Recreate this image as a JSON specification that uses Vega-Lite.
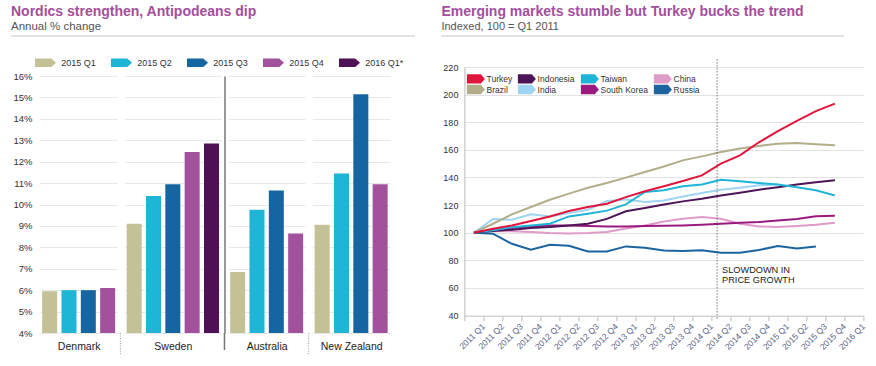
{
  "$schema": "https://vega.github.io/schema/vega-lite/v6.json",
  "padding": {"left": 10, "top": 4, "right": 4, "bottom": 4},
  "config": {
    "font": "Liberation Sans",
    "view": {"stroke": null},
    "axis": {"labelFont": "Liberation Sans", "titleFont": "Liberation Sans"},
    "legend": {"labelFont": "Liberation Sans"},
    "title": {"font": "Liberation Sans", "subtitleFont": "Liberation Sans"}
  },
  "datasets": {
    "bars": [
      {"country": "Denmark", "quarter": "2015 Q1", "value": 5.95},
      {"country": "Denmark", "quarter": "2015 Q2", "value": 6.0},
      {"country": "Denmark", "quarter": "2015 Q3", "value": 6.0},
      {"country": "Denmark", "quarter": "2015 Q4", "value": 6.1},
      {"country": "Sweden", "quarter": "2015 Q1", "value": 9.1},
      {"country": "Sweden", "quarter": "2015 Q2", "value": 10.4},
      {"country": "Sweden", "quarter": "2015 Q3", "value": 10.95},
      {"country": "Sweden", "quarter": "2015 Q4", "value": 12.45},
      {"country": "Sweden", "quarter": "2016 Q1*", "value": 12.85},
      {"country": "Australia", "quarter": "2015 Q1", "value": 6.85},
      {"country": "Australia", "quarter": "2015 Q2", "value": 9.75},
      {"country": "Australia", "quarter": "2015 Q3", "value": 10.65},
      {"country": "Australia", "quarter": "2015 Q4", "value": 8.65},
      {"country": "New Zealand", "quarter": "2015 Q1", "value": 9.05},
      {"country": "New Zealand", "quarter": "2015 Q2", "value": 11.45},
      {"country": "New Zealand", "quarter": "2015 Q3", "value": 15.15},
      {"country": "New Zealand", "quarter": "2015 Q4", "value": 10.95}
    ],
    "lines": [
      {"country": "India", "quarter": "2011 Q1", "value": 100},
      {"country": "India", "quarter": "2011 Q2", "value": 110},
      {"country": "India", "quarter": "2011 Q3", "value": 109.4},
      {"country": "India", "quarter": "2011 Q4", "value": 113.3},
      {"country": "India", "quarter": "2012 Q1", "value": 111.8},
      {"country": "India", "quarter": "2012 Q2", "value": 114.2},
      {"country": "India", "quarter": "2012 Q3", "value": 116.7},
      {"country": "India", "quarter": "2012 Q4", "value": 123},
      {"country": "India", "quarter": "2013 Q1", "value": 124},
      {"country": "India", "quarter": "2013 Q2", "value": 122.2},
      {"country": "India", "quarter": "2013 Q3", "value": 123.4},
      {"country": "India", "quarter": "2013 Q4", "value": 126.3},
      {"country": "India", "quarter": "2014 Q1", "value": 128.7},
      {"country": "India", "quarter": "2014 Q2", "value": 131.2},
      {"country": "India", "quarter": "2014 Q3", "value": 132.6},
      {"country": "India", "quarter": "2014 Q4", "value": 134.3},
      {"country": "India", "quarter": "2015 Q1", "value": 135},
      {"country": "China", "quarter": "2011 Q1", "value": 100},
      {"country": "China", "quarter": "2011 Q2", "value": 101.2},
      {"country": "China", "quarter": "2011 Q3", "value": 101},
      {"country": "China", "quarter": "2011 Q4", "value": 100.5},
      {"country": "China", "quarter": "2012 Q1", "value": 99.8},
      {"country": "China", "quarter": "2012 Q2", "value": 99.5},
      {"country": "China", "quarter": "2012 Q3", "value": 99.8},
      {"country": "China", "quarter": "2012 Q4", "value": 100.5},
      {"country": "China", "quarter": "2013 Q1", "value": 103},
      {"country": "China", "quarter": "2013 Q2", "value": 105.3},
      {"country": "China", "quarter": "2013 Q3", "value": 108.2},
      {"country": "China", "quarter": "2013 Q4", "value": 110.1},
      {"country": "China", "quarter": "2014 Q1", "value": 111.4},
      {"country": "China", "quarter": "2014 Q2", "value": 110.1},
      {"country": "China", "quarter": "2014 Q3", "value": 106.5},
      {"country": "China", "quarter": "2014 Q4", "value": 104.6},
      {"country": "China", "quarter": "2015 Q1", "value": 104.1},
      {"country": "China", "quarter": "2015 Q2", "value": 104.8},
      {"country": "China", "quarter": "2015 Q3", "value": 105.8},
      {"country": "China", "quarter": "2015 Q4", "value": 107.2},
      {"country": "Brazil", "quarter": "2011 Q1", "value": 100},
      {"country": "Brazil", "quarter": "2011 Q2", "value": 106.5},
      {"country": "Brazil", "quarter": "2011 Q3", "value": 113.3},
      {"country": "Brazil", "quarter": "2011 Q4", "value": 118.6},
      {"country": "Brazil", "quarter": "2012 Q1", "value": 123.9},
      {"country": "Brazil", "quarter": "2012 Q2", "value": 128.3},
      {"country": "Brazil", "quarter": "2012 Q3", "value": 132.6},
      {"country": "Brazil", "quarter": "2012 Q4", "value": 136},
      {"country": "Brazil", "quarter": "2013 Q1", "value": 139.9},
      {"country": "Brazil", "quarter": "2013 Q2", "value": 144},
      {"country": "Brazil", "quarter": "2013 Q3", "value": 148},
      {"country": "Brazil", "quarter": "2013 Q4", "value": 152.4},
      {"country": "Brazil", "quarter": "2014 Q1", "value": 155.3},
      {"country": "Brazil", "quarter": "2014 Q2", "value": 158.5},
      {"country": "Brazil", "quarter": "2014 Q3", "value": 161},
      {"country": "Brazil", "quarter": "2014 Q4", "value": 162.8},
      {"country": "Brazil", "quarter": "2015 Q1", "value": 164.5},
      {"country": "Brazil", "quarter": "2015 Q2", "value": 165},
      {"country": "Brazil", "quarter": "2015 Q3", "value": 164},
      {"country": "Brazil", "quarter": "2015 Q4", "value": 163.3},
      {"country": "South Korea", "quarter": "2011 Q1", "value": 100},
      {"country": "South Korea", "quarter": "2011 Q2", "value": 102.2},
      {"country": "South Korea", "quarter": "2011 Q3", "value": 103.4},
      {"country": "South Korea", "quarter": "2011 Q4", "value": 104.6},
      {"country": "South Korea", "quarter": "2012 Q1", "value": 105.3},
      {"country": "South Korea", "quarter": "2012 Q2", "value": 105.3},
      {"country": "South Korea", "quarter": "2012 Q3", "value": 104.8},
      {"country": "South Korea", "quarter": "2012 Q4", "value": 104.6},
      {"country": "South Korea", "quarter": "2013 Q1", "value": 104.6},
      {"country": "South Korea", "quarter": "2013 Q2", "value": 104.8},
      {"country": "South Korea", "quarter": "2013 Q3", "value": 105},
      {"country": "South Korea", "quarter": "2013 Q4", "value": 105.3},
      {"country": "South Korea", "quarter": "2014 Q1", "value": 105.8},
      {"country": "South Korea", "quarter": "2014 Q2", "value": 106.5},
      {"country": "South Korea", "quarter": "2014 Q3", "value": 107.2},
      {"country": "South Korea", "quarter": "2014 Q4", "value": 107.7},
      {"country": "South Korea", "quarter": "2015 Q1", "value": 108.9},
      {"country": "South Korea", "quarter": "2015 Q2", "value": 110},
      {"country": "South Korea", "quarter": "2015 Q3", "value": 112},
      {"country": "South Korea", "quarter": "2015 Q4", "value": 112.3},
      {"country": "Indonesia", "quarter": "2011 Q1", "value": 100},
      {"country": "Indonesia", "quarter": "2011 Q2", "value": 101.2},
      {"country": "Indonesia", "quarter": "2011 Q3", "value": 102.2},
      {"country": "Indonesia", "quarter": "2011 Q4", "value": 103.4},
      {"country": "Indonesia", "quarter": "2012 Q1", "value": 104.1},
      {"country": "Indonesia", "quarter": "2012 Q2", "value": 105.3},
      {"country": "Indonesia", "quarter": "2012 Q3", "value": 106.5},
      {"country": "Indonesia", "quarter": "2012 Q4", "value": 110},
      {"country": "Indonesia", "quarter": "2013 Q1", "value": 115.5},
      {"country": "Indonesia", "quarter": "2013 Q2", "value": 117.9},
      {"country": "Indonesia", "quarter": "2013 Q3", "value": 120.5},
      {"country": "Indonesia", "quarter": "2013 Q4", "value": 122.7},
      {"country": "Indonesia", "quarter": "2014 Q1", "value": 124.6},
      {"country": "Indonesia", "quarter": "2014 Q2", "value": 127},
      {"country": "Indonesia", "quarter": "2014 Q3", "value": 129},
      {"country": "Indonesia", "quarter": "2014 Q4", "value": 131.2},
      {"country": "Indonesia", "quarter": "2015 Q1", "value": 133},
      {"country": "Indonesia", "quarter": "2015 Q2", "value": 135},
      {"country": "Indonesia", "quarter": "2015 Q3", "value": 136.5},
      {"country": "Indonesia", "quarter": "2015 Q4", "value": 138},
      {"country": "Taiwan", "quarter": "2011 Q1", "value": 100},
      {"country": "Taiwan", "quarter": "2011 Q2", "value": 101.7},
      {"country": "Taiwan", "quarter": "2011 Q3", "value": 104},
      {"country": "Taiwan", "quarter": "2011 Q4", "value": 105.3},
      {"country": "Taiwan", "quarter": "2012 Q1", "value": 106.5},
      {"country": "Taiwan", "quarter": "2012 Q2", "value": 111.8},
      {"country": "Taiwan", "quarter": "2012 Q3", "value": 113.8},
      {"country": "Taiwan", "quarter": "2012 Q4", "value": 116},
      {"country": "Taiwan", "quarter": "2013 Q1", "value": 120.5},
      {"country": "Taiwan", "quarter": "2013 Q2", "value": 129.5},
      {"country": "Taiwan", "quarter": "2013 Q3", "value": 130.7},
      {"country": "Taiwan", "quarter": "2013 Q4", "value": 133.6},
      {"country": "Taiwan", "quarter": "2014 Q1", "value": 135},
      {"country": "Taiwan", "quarter": "2014 Q2", "value": 138.4},
      {"country": "Taiwan", "quarter": "2014 Q3", "value": 137.2},
      {"country": "Taiwan", "quarter": "2014 Q4", "value": 136},
      {"country": "Taiwan", "quarter": "2015 Q1", "value": 135},
      {"country": "Taiwan", "quarter": "2015 Q2", "value": 133},
      {"country": "Taiwan", "quarter": "2015 Q3", "value": 130.7},
      {"country": "Taiwan", "quarter": "2015 Q4", "value": 127},
      {"country": "Russia", "quarter": "2011 Q1", "value": 100},
      {"country": "Russia", "quarter": "2011 Q2", "value": 99.3},
      {"country": "Russia", "quarter": "2011 Q3", "value": 92},
      {"country": "Russia", "quarter": "2011 Q4", "value": 87.7},
      {"country": "Russia", "quarter": "2012 Q1", "value": 91.3},
      {"country": "Russia", "quarter": "2012 Q2", "value": 90.6},
      {"country": "Russia", "quarter": "2012 Q3", "value": 86.5},
      {"country": "Russia", "quarter": "2012 Q4", "value": 86.5},
      {"country": "Russia", "quarter": "2013 Q1", "value": 90.1},
      {"country": "Russia", "quarter": "2013 Q2", "value": 89.1},
      {"country": "Russia", "quarter": "2013 Q3", "value": 87.2},
      {"country": "Russia", "quarter": "2013 Q4", "value": 86.8},
      {"country": "Russia", "quarter": "2014 Q1", "value": 87.4},
      {"country": "Russia", "quarter": "2014 Q2", "value": 85.5},
      {"country": "Russia", "quarter": "2014 Q3", "value": 85.5},
      {"country": "Russia", "quarter": "2014 Q4", "value": 87.5},
      {"country": "Russia", "quarter": "2015 Q1", "value": 90.3},
      {"country": "Russia", "quarter": "2015 Q2", "value": 88.6},
      {"country": "Russia", "quarter": "2015 Q3", "value": 90},
      {"country": "Turkey", "quarter": "2011 Q1", "value": 100},
      {"country": "Turkey", "quarter": "2011 Q2", "value": 102.9},
      {"country": "Turkey", "quarter": "2011 Q3", "value": 105.3},
      {"country": "Turkey", "quarter": "2011 Q4", "value": 108.5},
      {"country": "Turkey", "quarter": "2012 Q1", "value": 111.8},
      {"country": "Turkey", "quarter": "2012 Q2", "value": 115.7},
      {"country": "Turkey", "quarter": "2012 Q3", "value": 118.6},
      {"country": "Turkey", "quarter": "2012 Q4", "value": 121},
      {"country": "Turkey", "quarter": "2013 Q1", "value": 125.8},
      {"country": "Turkey", "quarter": "2013 Q2", "value": 130},
      {"country": "Turkey", "quarter": "2013 Q3", "value": 133.6},
      {"country": "Turkey", "quarter": "2013 Q4", "value": 137.4},
      {"country": "Turkey", "quarter": "2014 Q1", "value": 141.5},
      {"country": "Turkey", "quarter": "2014 Q2", "value": 150},
      {"country": "Turkey", "quarter": "2014 Q3", "value": 156},
      {"country": "Turkey", "quarter": "2014 Q4", "value": 165.5},
      {"country": "Turkey", "quarter": "2015 Q1", "value": 173.5},
      {"country": "Turkey", "quarter": "2015 Q2", "value": 181},
      {"country": "Turkey", "quarter": "2015 Q3", "value": 188},
      {"country": "Turkey", "quarter": "2015 Q4", "value": 193.5}
    ]
  },
  "resolve": {"scale": {"color": "independent"}, "legend": {"color": "independent"}},
  "spacing": 24.4,
  "hconcat": [
    {
      "spacing": 20,
      "resolve": {"scale": {"color": "independent"}, "legend": {"color": "independent"}},
      "vconcat": [
        {
          "width": 404,
          "height": 1,
          "title": {"text": "Nordics strengthen, Antipodeans dip", "subtitle": "Annual % change", "anchor": "start", "frame": "group", "fontSize": 14, "fontWeight": "bold", "color": "#a24f9d", "subtitleFontSize": 11.5, "subtitleColor": "#555555", "subtitlePadding": 2, "offset": 3},
          "data": {"values": [{}]},
          "mark": {"type": "rule", "color": "#c8c8c8", "strokeWidth": 1},
          "encoding": {"y": {"datum": 0, "scale": {"domain": [0, 1]}, "axis": null}}
        },
        {
          "spacing": 0,
          "resolve": {"scale": {"color": "independent"}, "legend": {"color": "independent"}},
          "hconcat": [
            {
              "width": 1,
              "height": 1,
              "data": {"values": []},
              "mark": {"type": "point"},
              "encoding": {}
            },
            {
              "spacing": 1.5,
              "hconcat": [
                {
                  "width": {"step": 19.33},
                  "height": 257,
                  "data": {"name": "bars"},
                  "transform": [{"filter": "datum.country === 'Denmark'"}],
                  "mark": {"type": "bar"},
                  "encoding": {
                    "x": {"field": "quarter", "type": "nominal", "scale": {"paddingInner": 0.224, "paddingOuter": 0.112}, "axis": {"title": "Denmark", "labels": false, "ticks": false, "domain": false, "titleFontSize": 10.5, "titleFontWeight": "normal", "titleColor": "#222222", "titlePadding": 8}},
                    "y": {"field": "value", "type": "quantitative", "scale": {"domain": [4, 16], "nice": false, "zero": false}, "axis": {"title": null, "values": [4, 5, 6, 7, 8, 9, 10, 11, 12, 13, 14, 15, 16], "labelExpr": "datum.value + '%'", "labelFontSize": 9.5, "labelColor": "#333333", "labelOverlap": false, "ticks": false, "domain": false, "gridColor": "#e8e8e8", "labelPadding": 8, "minExtent": 27.5}},
                    "y2": {"datum": 4},
                    "color": {"field": "quarter", "type": "nominal", "scale": {"domain": ["2015 Q1", "2015 Q2", "2015 Q3", "2015 Q4", "2016 Q1*"], "range": ["#c4c197", "#1fb5d6", "#1565a0", "#a2529c", "#4f1156"]}, "legend": {"title": null, "orient": "top", "direction": "horizontal", "symbolType": "M-2,-0.79L1.1,-0.79L2,0L1.1,0.79L-2,0.79Z", "symbolSize": 110.25, "symbolStrokeWidth": 0, "labelFontSize": 9, "labelColor": "#333333", "labelOffset": 10.25, "columnPadding": 15, "offset": 3}}
                  }
                },
                {
                  "width": {"step": 19.33},
                  "height": 257,
                  "layer": [
                    {
                      "data": {"name": "bars"},
                      "transform": [{"filter": "datum.country === 'Sweden'"}],
                      "mark": {"type": "bar"},
                      "encoding": {
                        "x": {"field": "quarter", "type": "nominal", "scale": {"paddingInner": 0.224, "paddingOuter": 0.112}, "axis": {"title": "Sweden", "labels": false, "ticks": false, "domain": false, "titleFontSize": 10.5, "titleFontWeight": "normal", "titleColor": "#222222", "titlePadding": 8}},
                        "y": {"field": "value", "type": "quantitative", "scale": {"domain": [4, 16], "nice": false, "zero": false}, "axis": {"title": null, "values": [4, 5, 6, 7, 8, 9, 10, 11, 12, 13, 14, 15, 16], "labels": false, "ticks": false, "domain": false, "gridColor": "#e8e8e8", "minExtent": 0, "maxExtent": 0}},
                        "y2": {"datum": 4},
                        "color": {"field": "quarter", "type": "nominal", "scale": {"domain": ["2015 Q1", "2015 Q2", "2015 Q3", "2015 Q4", "2016 Q1*"], "range": ["#c4c197", "#1fb5d6", "#1565a0", "#a2529c", "#4f1156"]}, "legend": {"title": null, "orient": "top", "direction": "horizontal", "symbolType": "M-2,-0.79L1.1,-0.79L2,0L1.1,0.79L-2,0.79Z", "symbolSize": 110.25, "symbolStrokeWidth": 0, "labelFontSize": 9, "labelColor": "#333333", "labelOffset": 10.25, "columnPadding": 15, "offset": 3}}
                      }
                    },
                    {
                      "data": {"values": [{}]},
                      "mark": {"type": "rule", "color": "#999999", "strokeDash": [1, 1.5], "strokeWidth": 1},
                      "encoding": {
                        "x": {"datum": "2015 Q1", "type": "nominal", "bandPosition": -0.42, "axis": {"title": "Sweden", "labels": false, "ticks": false, "domain": false, "titleFontSize": 10.5, "titleFontWeight": "normal", "titleColor": "#222222", "titlePadding": 8}},
                        "y": {"datum": 4, "type": "quantitative", "axis": {"title": null, "values": [4, 5, 6, 7, 8, 9, 10, 11, 12, 13, 14, 15, 16], "labels": false, "ticks": false, "domain": false, "gridColor": "#e8e8e8", "minExtent": 0, "maxExtent": 0}},
                        "y2": {"datum": 2.97}
                      }
                    }
                  ]
                },
                {
                  "width": {"step": 19.33},
                  "height": 257,
                  "layer": [
                    {
                      "data": {"name": "bars"},
                      "transform": [{"filter": "datum.country === 'Australia'"}],
                      "mark": {"type": "bar"},
                      "encoding": {
                        "x": {"field": "quarter", "type": "nominal", "scale": {"paddingInner": 0.224, "paddingOuter": 0.112}, "axis": {"title": "Australia", "labels": false, "ticks": false, "domain": false, "titleFontSize": 10.5, "titleFontWeight": "normal", "titleColor": "#222222", "titlePadding": 8}},
                        "y": {"field": "value", "type": "quantitative", "scale": {"domain": [4, 16], "nice": false, "zero": false}, "axis": {"title": null, "values": [4, 5, 6, 7, 8, 9, 10, 11, 12, 13, 14, 15, 16], "labels": false, "ticks": false, "domain": true, "domainColor": "#777777", "domainWidth": 1.5, "offset": 3.5, "gridColor": "#e8e8e8", "minExtent": 0, "maxExtent": 0}},
                        "y2": {"datum": 4},
                        "color": {"field": "quarter", "type": "nominal", "scale": {"domain": ["2015 Q1", "2015 Q2", "2015 Q3", "2015 Q4", "2016 Q1*"], "range": ["#c4c197", "#1fb5d6", "#1565a0", "#a2529c", "#4f1156"]}, "legend": {"title": null, "orient": "top", "direction": "horizontal", "symbolType": "M-2,-0.79L1.1,-0.79L2,0L1.1,0.79L-2,0.79Z", "symbolSize": 110.25, "symbolStrokeWidth": 0, "labelFontSize": 9, "labelColor": "#333333", "labelOffset": 10.25, "columnPadding": 15, "offset": 3}}
                      }
                    },
                    {
                      "data": {"values": [{}]},
                      "mark": {"type": "rule", "color": "#777777", "strokeWidth": 1.5},
                      "encoding": {
                        "x": {"datum": "2015 Q1", "type": "nominal", "bandPosition": -0.38, "axis": {"title": "Australia", "labels": false, "ticks": false, "domain": false, "titleFontSize": 10.5, "titleFontWeight": "normal", "titleColor": "#222222", "titlePadding": 8}},
                        "y": {"datum": 4, "type": "quantitative", "axis": {"title": null, "values": [4, 5, 6, 7, 8, 9, 10, 11, 12, 13, 14, 15, 16], "labels": false, "ticks": false, "domain": true, "domainColor": "#777777", "domainWidth": 1.5, "offset": 3.5, "gridColor": "#e8e8e8", "minExtent": 0, "maxExtent": 0}},
                        "y2": {"datum": 3.2}
                      }
                    }
                  ]
                },
                {
                  "width": {"step": 19.33},
                  "height": 257,
                  "layer": [
                    {
                      "data": {"name": "bars"},
                      "transform": [{"filter": "datum.country === 'New Zealand'"}],
                      "mark": {"type": "bar"},
                      "encoding": {
                        "x": {"field": "quarter", "type": "nominal", "scale": {"paddingInner": 0.224, "paddingOuter": 0.112}, "axis": {"title": "New Zealand", "labels": false, "ticks": false, "domain": false, "titleFontSize": 10.5, "titleFontWeight": "normal", "titleColor": "#222222", "titlePadding": 8}},
                        "y": {"field": "value", "type": "quantitative", "scale": {"domain": [4, 16], "nice": false, "zero": false}, "axis": {"title": null, "values": [4, 5, 6, 7, 8, 9, 10, 11, 12, 13, 14, 15, 16], "labels": false, "ticks": false, "domain": false, "gridColor": "#e8e8e8", "minExtent": 0, "maxExtent": 0}},
                        "y2": {"datum": 4},
                        "color": {"field": "quarter", "type": "nominal", "scale": {"domain": ["2015 Q1", "2015 Q2", "2015 Q3", "2015 Q4", "2016 Q1*"], "range": ["#c4c197", "#1fb5d6", "#1565a0", "#a2529c", "#4f1156"]}, "legend": {"title": null, "orient": "top", "direction": "horizontal", "symbolType": "M-2,-0.79L1.1,-0.79L2,0L1.1,0.79L-2,0.79Z", "symbolSize": 110.25, "symbolStrokeWidth": 0, "labelFontSize": 9, "labelColor": "#333333", "labelOffset": 10.25, "columnPadding": 15, "offset": 3}}
                      }
                    },
                    {
                      "data": {"values": [{}]},
                      "mark": {"type": "rule", "color": "#999999", "strokeDash": [1, 1.5], "strokeWidth": 1},
                      "encoding": {
                        "x": {"datum": "2015 Q1", "type": "nominal", "bandPosition": -0.4, "axis": {"title": "New Zealand", "labels": false, "ticks": false, "domain": false, "titleFontSize": 10.5, "titleFontWeight": "normal", "titleColor": "#222222", "titlePadding": 8}},
                        "y": {"datum": 4, "type": "quantitative", "axis": {"title": null, "values": [4, 5, 6, 7, 8, 9, 10, 11, 12, 13, 14, 15, 16], "labels": false, "ticks": false, "domain": false, "gridColor": "#e8e8e8", "minExtent": 0, "maxExtent": 0}},
                        "y2": {"datum": 2.97}
                      }
                    }
                  ]
                }
              ]
            }
          ]
        }
      ]
    },
    {
      "spacing": 21,
      "resolve": {"scale": {"color": "independent"}, "legend": {"color": "independent"}},
      "vconcat": [
        {
          "width": 403,
          "height": 1,
          "title": {"text": "Emerging markets stumble but Turkey bucks the trend", "subtitle": "Indexed, 100 = Q1 2011", "anchor": "start", "frame": "group", "fontSize": 14, "fontWeight": "bold", "color": "#a24f9d", "subtitleFontSize": 11, "subtitleColor": "#555555", "subtitlePadding": 2, "offset": 3},
          "data": {"values": [{}]},
          "mark": {"type": "rule", "color": "#c8c8c8", "strokeWidth": 1},
          "encoding": {"y": {"datum": 0, "scale": {"domain": [0, 1]}, "axis": null}}
        },
        {
          "spacing": 0,
          "resolve": {"scale": {"color": "independent"}, "legend": {"color": "independent"}},
          "hconcat": [
            {
              "width": 1,
              "height": 1,
              "data": {"values": []},
              "mark": {"type": "point"},
              "encoding": {}
            },
            {
              "width": 399,
              "height": 248.6,
              "layer": [
                {
                  "data": {"name": "lines"},
                  "mark": {"type": "point", "filled": true, "size": 0, "opacity": 1},
                  "encoding": {
                    "x": {"field": "quarter", "type": "ordinal", "scale": {"type": "band", "domain": ["2011 Q1", "2011 Q2", "2011 Q3", "2011 Q4", "2012 Q1", "2012 Q2", "2012 Q3", "2012 Q4", "2013 Q1", "2013 Q2", "2013 Q3", "2013 Q4", "2014 Q1", "2014 Q2", "2014 Q3", "2014 Q4", "2015 Q1", "2015 Q2", "2015 Q3", "2015 Q4", "2016 Q1"], "paddingInner": 0, "paddingOuter": 0}, "axis": {"title": null, "tickBand": "extent", "labelAngle": -45, "labelAlign": "right", "labelBaseline": "middle", "labelOffset": 9, "labelFontSize": 8.5, "labelColor": "#5a6385", "labelPadding": 4, "tickColor": "#bbbbbb", "tickSize": 5, "domainColor": "#cccccc", "grid": false, "labelOverlap": false}},
                    "y": {"field": "value", "type": "quantitative", "scale": {"domain": [40, 220], "nice": false, "zero": false}, "axis": {"title": null, "values": [40, 60, 80, 100, 120, 140, 160, 180, 200, 220], "tickCount": 10, "labelOverlap": false, "labelFontSize": 9, "labelColor": "#333333", "ticks": false, "domain": true, "domainColor": "#bbbbbb", "gridColor": "#e2e2e2", "labelPadding": 6.5, "minExtent": 20.6}},
                    "color": {"field": "country", "type": "nominal", "scale": {"domain": ["Turkey", "Brazil", "Indonesia", "India", "Taiwan", "South Korea", "China", "Russia"], "range": ["#e2163d", "#b2ae8a", "#4e1458", "#9fd4f2", "#20b4d8", "#9b1a80", "#e09cc8", "#1b64a0"]}, "legend": {"title": null, "orient": "top-left", "columns": 4, "symbolType": "M-2,-1.05L1.1,-1.05L2,0L1.1,1.05L-2,1.05Z", "symbolSize": 81, "symbolStrokeWidth": 0, "labelFontSize": 8.5, "labelColor": "#333333", "labelOffset": 6.2, "columnPadding": 5, "rowPadding": 0, "offset": 7, "padding": 0}}
                  }
                },
                {
                  "data": {"name": "lines"},
                  "mark": {"type": "line", "strokeWidth": 2},
                  "encoding": {
                    "x": {"field": "quarter", "type": "ordinal", "axis": {"title": null, "tickBand": "extent", "labelAngle": -45, "labelAlign": "right", "labelBaseline": "middle", "labelOffset": 9, "labelFontSize": 8.5, "labelColor": "#5a6385", "labelPadding": 4, "tickColor": "#bbbbbb", "tickSize": 5, "domainColor": "#cccccc", "grid": false, "labelOverlap": false}},
                    "y": {"field": "value", "type": "quantitative", "axis": {"title": null, "values": [40, 60, 80, 100, 120, 140, 160, 180, 200, 220], "tickCount": 10, "labelOverlap": false, "labelFontSize": 9, "labelColor": "#333333", "ticks": false, "domain": true, "domainColor": "#bbbbbb", "gridColor": "#e2e2e2", "labelPadding": 6.5, "minExtent": 20.6}},
                    "color": {"field": "country", "type": "nominal", "legend": {"title": null, "orient": "top-left", "columns": 4, "symbolType": "M-2,-1.05L1.1,-1.05L2,0L1.1,1.05L-2,1.05Z", "symbolSize": 81, "symbolStrokeWidth": 0, "labelFontSize": 8.5, "labelColor": "#333333", "labelOffset": 6.2, "columnPadding": 5, "rowPadding": 0, "offset": 7, "padding": 0}}
                  }
                },
                {
                  "data": {"values": [{}]},
                  "mark": {"type": "rule", "color": "#333333", "strokeDash": [1, 2], "strokeWidth": 1},
                  "encoding": {
                    "x": {"datum": "2014 Q2", "bandPosition": 0.3, "type": "ordinal", "axis": {"title": null, "tickBand": "extent", "labelAngle": -45, "labelAlign": "right", "labelBaseline": "middle", "labelOffset": 9, "labelFontSize": 8.5, "labelColor": "#5a6385", "labelPadding": 4, "tickColor": "#bbbbbb", "tickSize": 5, "domainColor": "#cccccc", "grid": false, "labelOverlap": false}},
                    "y": {"datum": 225.5, "type": "quantitative", "axis": {"title": null, "values": [40, 60, 80, 100, 120, 140, 160, 180, 200, 220], "tickCount": 10, "labelOverlap": false, "labelFontSize": 9, "labelColor": "#333333", "ticks": false, "domain": true, "domainColor": "#bbbbbb", "gridColor": "#e2e2e2", "labelPadding": 6.5, "minExtent": 20.6}},
                    "y2": {"datum": 36.5}
                  }
                },
                {
                  "data": {"values": [{}]},
                  "mark": {"type": "text", "align": "left", "baseline": "top", "dx": 5, "fontSize": 9.2, "lineHeight": 9.5, "color": "#222222"},
                  "encoding": {
                    "x": {"datum": "2014 Q2", "bandPosition": 0.3, "type": "ordinal", "axis": {"title": null, "tickBand": "extent", "labelAngle": -45, "labelAlign": "right", "labelBaseline": "middle", "labelOffset": 9, "labelFontSize": 8.5, "labelColor": "#5a6385", "labelPadding": 4, "tickColor": "#bbbbbb", "tickSize": 5, "domainColor": "#cccccc", "grid": false, "labelOverlap": false}},
                    "y": {"datum": 75.7, "type": "quantitative", "axis": {"title": null, "values": [40, 60, 80, 100, 120, 140, 160, 180, 200, 220], "tickCount": 10, "labelOverlap": false, "labelFontSize": 9, "labelColor": "#333333", "ticks": false, "domain": true, "domainColor": "#bbbbbb", "gridColor": "#e2e2e2", "labelPadding": 6.5, "minExtent": 20.6}},
                    "text": {"value": ["SLOWDOWN IN", "PRICE GROWTH"]}
                  }
                }
              ]
            }
          ]
        }
      ]
    }
  ]
}
